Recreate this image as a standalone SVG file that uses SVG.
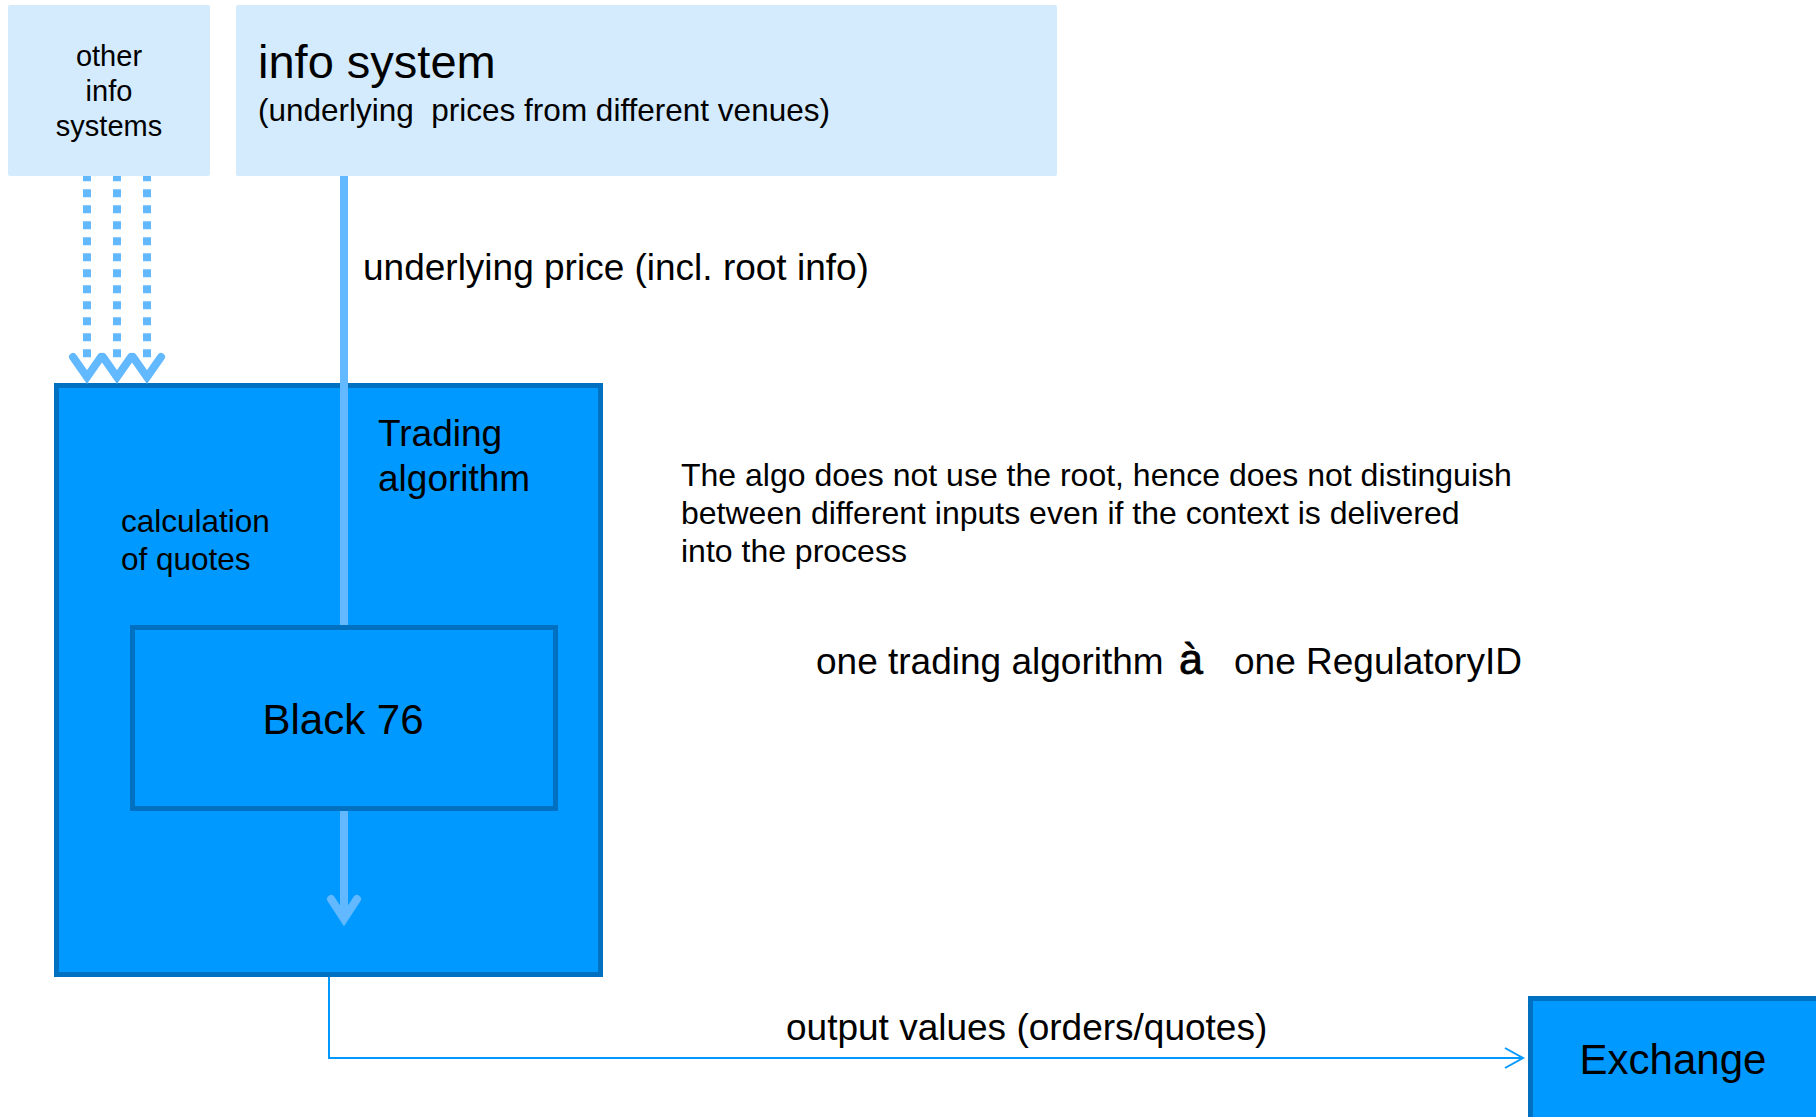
<svg xmlns="http://www.w3.org/2000/svg" width="1816" height="1117" viewBox="0 0 1816 1117">
  <style>
    .light { fill: #D3EBFD; }
    .main { fill: #0099FF; stroke: #0070C0; stroke-width: 5; }
    .t { font-family: "Liberation Sans", Arial, sans-serif; fill: #000; }
    .feed { fill: none; stroke: #63B9FF; stroke-width: 8; }
    .dots { stroke-dasharray: 8 8; stroke-dashoffset: 2.7; }
    .head { fill: none; stroke: #63B9FF; stroke-width: 8; stroke-linecap: round; stroke-linejoin: miter; }
    .thin { fill: none; stroke: #0099FF; stroke-width: 2; }
  </style>
  <rect width="1816" height="1117" fill="#FFFFFF"/>

  <g id="other-info-systems">
    <rect class="light" x="8" y="5" width="202" height="171" rx="2"/>
    <text class="t" font-size="29" text-anchor="middle"><tspan x="109" y="66">other</tspan><tspan x="109" y="101">info</tspan><tspan x="109" y="136">systems</tspan></text>
  </g>

  <g id="info-system">
    <rect class="light" x="236" y="5" width="821" height="171" rx="2"/>
    <text class="t" x="258" y="78" font-size="47">info system</text>
    <text class="t" x="258" y="121" font-size="31.5" xml:space="preserve">(underlying  prices from different venues)</text>
  </g>

  <g id="trading-algorithm">
    <rect class="main" x="56.5" y="385.5" width="544" height="589"/>
    <text class="t" font-size="37"><tspan x="378" y="446">Trading</tspan><tspan x="378" y="491">algorithm</tspan></text>
    <text class="t" font-size="31.5"><tspan x="121" y="532">calculation</tspan><tspan x="121" y="570">of quotes</tspan></text>
  </g>

  <g id="connectors">
    <line class="feed dots" x1="87" y1="176" x2="87" y2="360"/>
    <line class="feed dots" x1="117" y1="176" x2="117" y2="360"/>
    <line class="feed dots" x1="147" y1="176" x2="147" y2="360"/>
    <polyline class="head" points="73,357 87,377 101,357"/>
    <polyline class="head" points="103,357 117,377 131,357"/>
    <polyline class="head" points="133,357 147,377 161,357"/>
    <line class="feed" x1="344" y1="176" x2="344" y2="628"/>
    <line class="feed" x1="344" y1="810" x2="344" y2="918"/>
    <polyline class="head" points="331,899 344,919 357,899"/>
    <path class="thin" d="M329,977 V1058 H1521"/>
    <polyline class="thin" points="1505,1048 1523,1058 1505,1068"/>
  </g>

  <g id="black-76">
    <rect class="main" x="132.5" y="627.5" width="423" height="181"/>
    <text class="t" x="343" y="734" font-size="42" text-anchor="middle">Black 76</text>
  </g>

  <g id="exchange">
    <rect class="main" x="1530.5" y="998.5" width="400" height="200"/>
    <text class="t" x="1673" y="1074" font-size="42" text-anchor="middle">Exchange</text>
  </g>

  <g id="labels">
    <text class="t" x="363" y="280" font-size="37">underlying price (incl. root info)</text>
    <text class="t" x="786" y="1040" font-size="37">output values (orders/quotes)</text>
    <text class="t" font-size="32"><tspan x="681" y="486">The algo does not use the root, hence does not distinguish</tspan><tspan x="681" y="524">between different inputs even if the context is delivered</tspan><tspan x="681" y="562">into the process</tspan></text>
    <text class="t" x="816" y="674" font-size="37">one trading algorithm</text>
    <text class="t" x="1179" y="674" font-size="43" stroke="#000" stroke-width="0.8">à</text>
    <text class="t" x="1234" y="674" font-size="37">one RegulatoryID</text>
  </g>
</svg>
